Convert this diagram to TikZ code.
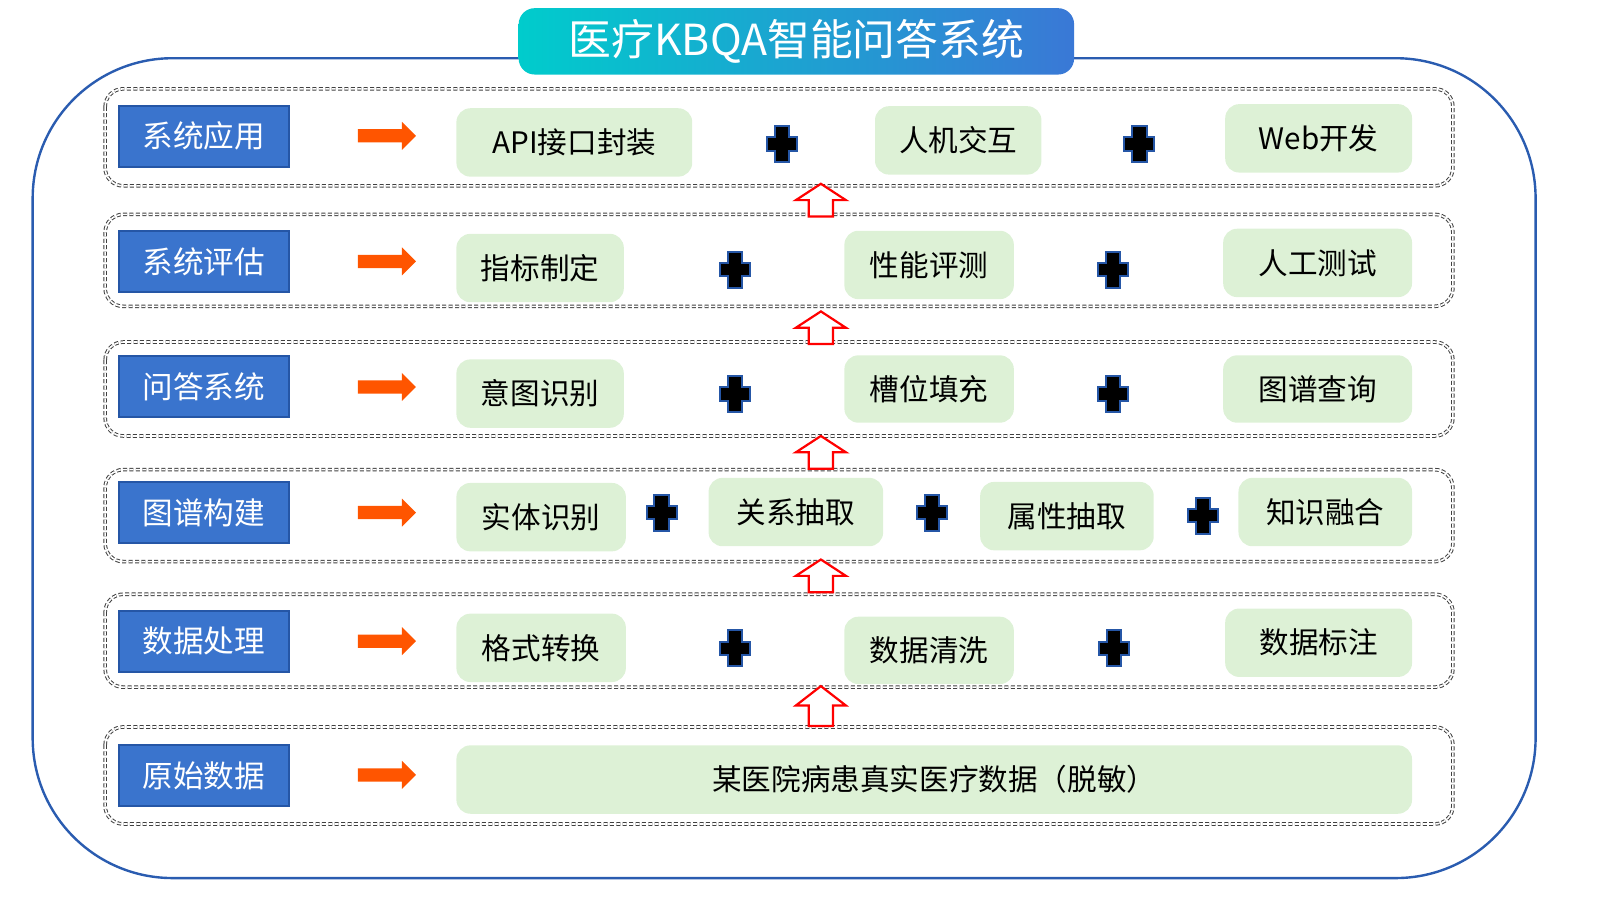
\documentclass[tikz,border=0pt]{standalone}
\usepackage{fontspec}
\setmainfont{Noto Sans CJK SC}
\usetikzlibrary{shadings}
\definecolor{lblue}{HTML}{3A74CD}
\definecolor{lblueb}{HTML}{2556A6}
\definecolor{gfill}{HTML}{DDF1D6}
\definecolor{oarrow}{HTML}{FF5500}
\definecolor{tteal}{HTML}{00CCCC}
\definecolor{tblue}{HTML}{3A78D6}
\definecolor{frame}{HTML}{2A5CB0}
\definecolor{plusb}{HTML}{2556A6}
\tikzset{
  rowbox/.style={draw=black!75, dashed, double=white, double distance=0.8pt, line width=0.5pt, rounded corners=9pt, dash pattern=on 2pt off 1.2pt},
  lbl/.style={draw=lblueb, line width=1pt, fill=lblue, text=white, minimum width=85pt, minimum height=30.5pt, inner sep=0pt, font=\fontsize{15.3pt}{18pt}\selectfont},
  gbox/.style={fill=gfill, rounded corners=7pt, inner sep=0pt, font=\fontsize{14.8pt}{17pt}\selectfont},
  oarr/.style={fill=oarrow},
  uparr/.style={draw=red, line width=1.1pt, fill=white},
  plus/.pic={\filldraw[fill=black, draw=plusb, line width=1pt] (-3.6pt,-9pt) -- (3.6pt,-9pt) -- (3.6pt,-3.4pt) -- (7.5pt,-3.4pt) -- (7.5pt,3.4pt) -- (3.6pt,3.4pt) -- (3.6pt,9pt) -- (-3.6pt,9pt) -- (-3.6pt,3.4pt) -- (-7.5pt,3.4pt) -- (-7.5pt,-3.4pt) -- (-3.6pt,-3.4pt) -- cycle;}
}
\newcommand{\gb}[6]{\node[gbox, minimum width={(#4-#2)*0.5105pt}, minimum height={(#5-#3)*0.5105pt}] (#1) at ({(#2+#4)/2},{(#3+#5)/2}) {#6};}
\begin{document}
\begin{tikzpicture}[x=0.5105pt,y=-0.5105pt]
\useasboundingbox (0,0) rectangle (1567.1,879.6);
% outer frame
\draw[frame, line width=1.2pt, rounded corners=70pt] (32,57) rectangle (1504,860);
% title
\shade[left color=tteal, right color=tblue, rounded corners=8pt] (508,8) rectangle (1052,73);
\node[text=white, font=\fontsize{21.4pt}{24pt}\selectfont] (title) at (780,41) {医疗KBQA智能问答系统};
% rows
\foreach \a/\b in {87/182,210/300,335/427,460/550,582/673,712/807}{
  \draw[rowbox] (103,\a) rectangle (1423,\b);
}
% labels
\foreach \y/\t/\n in {133.5/系统应用/l1,256/系统评估/l2,379/问答系统/l3,502/图谱构建/l4,628/数据处理/l5,759.5/原始数据/l6}{
  \node[lbl] (\n) at (199.5,\y) {\t};
}
% orange arrows
\foreach \y in {133,256,379,502,628,759}{
  \fill[oarr] (350.5,{\y-6.5}) -- (393.7,{\y-6.5}) -- (393.7,{\y-13.7}) -- (407.4,\y) -- (393.7,{\y+13.7}) -- (393.7,{\y+6.5}) -- (350.5,{\y+6.5}) -- cycle;
}
% green boxes
\gb{g11}{447}{106}{678}{173}{API接口封装}
\gb{g12}{857}{104}{1020}{171}{人机交互}
\gb{g13}{1200}{102}{1383}{169}{Web开发}
\gb{g21}{447}{229}{611}{296}{指标制定}
\gb{g22}{827}{226}{993}{293}{性能评测}
\gb{g23}{1198}{224}{1383}{291}{人工测试}
\gb{g31}{447}{352}{611}{419}{意图识别}
\gb{g32}{827}{348}{993}{414}{槽位填充}
\gb{g33}{1198}{348}{1383}{414}{图谱查询}
\gb{g41}{447}{473}{613}{540}{实体识别}
\gb{g42}{694}{468}{865}{535}{关系抽取}
\gb{g43}{960}{472}{1130}{539}{属性抽取}
\gb{g44}{1213}{468}{1383}{535}{知识融合}
\gb{g51}{447}{601}{613}{668}{格式转换}
\gb{g52}{827}{604}{993}{670}{数据清洗}
\gb{g53}{1200}{596}{1383}{663}{数据标注}
\gb{g61}{447}{730}{1383}{797}{某医院病患真实医疗数据（脱敏）}
% plus signs
\foreach \x/\y in {766/141,1116/141,720/264,1090/264,720/386,1090/386,648/502,913/502,1178/505,720/635,1091/635}{
  \pic at (\x,\y) {plus};
}
% up arrows: tip / head base / bottom
\foreach \t/\h/\b in {180/196/212,305/321/337,427/443/459,548/564/580,672/691/711}{
  \draw[uparr] (804,\t) -- (828.5,\h) -- (815.8,\h) -- (815.8,\b) -- (792.2,\b) -- (792.2,\h) -- (779.5,\h) -- cycle;
}
\end{tikzpicture}
\end{document}
